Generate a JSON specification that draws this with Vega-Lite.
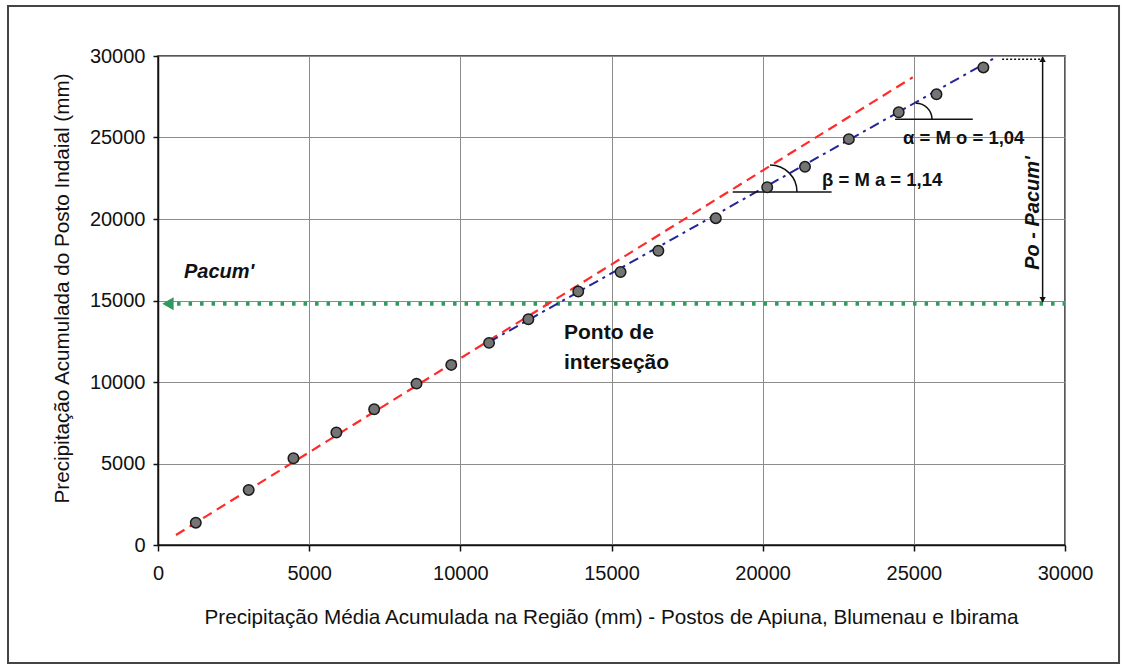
{
  "$schema": "https://vega.github.io/schema/vega-lite/v6.json",
  "width": 907,
  "height": 489,
  "autosize": {"type": "none"},
  "padding": {"left": 158, "top": 56, "right": 57, "bottom": 121},
  "background": "white",
  "config": {
    "font": "Liberation Sans",
    "view": {"stroke": "#222222", "strokeWidth": 1.5},
    "axis": {
      "labelFont": "Liberation Sans",
      "titleFont": "Liberation Sans",
      "labelFontSize": 20,
      "titleFontSize": 20.7,
      "titleFontWeight": "normal",
      "labelColor": "#111111",
      "titleColor": "#111111",
      "gridColor": "#8c8c8c",
      "gridWidth": 1,
      "domainColor": "#111111",
      "domainWidth": 1.5,
      "tickColor": "#111111",
      "tickWidth": 1.5,
      "labelFlush": false,
      "labelOverlap": false
    }
  },
  "datasets": {
    "obs": [
      {"x": 1250, "y": 1370},
      {"x": 3000, "y": 3380},
      {"x": 4480, "y": 5320},
      {"x": 5900, "y": 6900},
      {"x": 7150, "y": 8330},
      {"x": 8550, "y": 9900},
      {"x": 9700, "y": 11050},
      {"x": 10950, "y": 12400},
      {"x": 12250, "y": 13850},
      {"x": 13900, "y": 15550},
      {"x": 15300, "y": 16750},
      {"x": 16550, "y": 18050},
      {"x": 18450, "y": 20050},
      {"x": 20150, "y": 21950},
      {"x": 21400, "y": 23200},
      {"x": 22850, "y": 24900},
      {"x": 24500, "y": 26550},
      {"x": 25750, "y": 27650},
      {"x": 27300, "y": 29300}
    ],
    "segs": [
      {"seg": "Ma", "x": 595, "y": 613, "x2": 24963, "y2": 28693},
      {"seg": "Mo", "x": 10950, "y": 12450, "x2": 27620, "y2": 29820},
      {"seg": "Pacum", "x": 250, "y": 14800, "x2": 30000, "y2": 14800},
      {"seg": "base", "x": 19010, "y": 21660, "x2": 22280, "y2": 21660},
      {"seg": "base", "x": 24380, "y": 26117, "x2": 26950, "y2": 26117},
      {"seg": "diff", "x": 29260, "y": 14900, "x2": 29260, "y2": 29950},
      {"seg": "top", "x": 27920, "y": 29800, "x2": 29180, "y2": 29800}
    ],
    "heads": [
      {"head": "Pacum", "shape": "triangle-left", "x": 330, "y": 14800},
      {"head": "diff", "shape": "triangle-up", "x": 29260, "y": 29800},
      {"head": "diff", "shape": "triangle-down", "x": 29260, "y": 15050}
    ],
    "angles": [
      {"angle": "beta", "x": 20243, "y": 21660},
      {"angle": "alpha", "x": 25072, "y": 26117}
    ],
    "labels": [
      {"kind": "pacum", "x": 860, "y": 16750, "text": "Pacum'"},
      {"kind": "ponto", "x": 13430, "y": 13006, "text": "Ponto de"},
      {"kind": "ponto", "x": 13430, "y": 11166, "text": "interseção"},
      {"kind": "slope", "x": 21963, "y": 22393, "text": "β = M a = 1,14"},
      {"kind": "slope", "x": 24642, "y": 24990, "text": "α = M o = 1,04"},
      {"kind": "diff", "x": 28942, "y": 20368, "text": "Po - Pacum'"}
    ],
    "frame": [
      {"x": -4961, "y": 33067, "x2": 31787, "y2": -7239}
    ]
  },
  "encoding": {
    "x": {
      "field": "x",
      "type": "quantitative",
      "scale": {"domain": [0, 30000], "nice": false, "zero": false},
      "axis": {
        "title": "Precipitação Média Acumulada na Região (mm) - Postos de Apiuna, Blumenau e Ibirama",
        "values": [0, 5000, 10000, 15000, 20000, 25000, 30000],
        "format": "d",
        "tickSize": 6,
        "labelPadding": 12,
        "titleX": 453,
        "titleY": 72,
        "titleAlign": "center",
        "titleBaseline": "middle"
      }
    },
    "y": {
      "field": "y",
      "type": "quantitative",
      "scale": {"domain": [0, 30000], "nice": false, "zero": false},
      "axis": {
        "title": "Precipitação Acumulada do Posto Indaial (mm)",
        "values": [0, 5000, 10000, 15000, 20000, 25000, 30000],
        "format": "d",
        "tickSize": 5,
        "labelPadding": 8,
        "titleX": -96,
        "titleY": 232,
        "titleAngle": 270,
        "titleAlign": "center",
        "titleBaseline": "middle"
      }
    }
  },
  "layer": [
    {
      "data": {"name": "segs"},
      "transform": [{"filter": "datum.seg === 'Pacum'"}],
      "mark": {"type": "rule", "color": "#2f9a5c", "strokeWidth": 4, "strokeDash": [3.5, 8]},
      "encoding": {"x2": {"field": "x2"}, "y2": {"field": "y2"}}
    },
    {
      "data": {"name": "segs"},
      "transform": [{"filter": "datum.seg === 'Ma'"}],
      "mark": {"type": "rule", "color": "#ff2b2b", "strokeWidth": 2.2, "strokeDash": [10, 6]},
      "encoding": {"x2": {"field": "x2"}, "y2": {"field": "y2"}}
    },
    {
      "data": {"name": "segs"},
      "transform": [{"filter": "datum.seg === 'Mo'"}],
      "mark": {"type": "rule", "color": "#24249a", "strokeWidth": 2, "strokeDash": [10, 5, 3, 5]},
      "encoding": {"x2": {"field": "x2"}, "y2": {"field": "y2"}}
    },
    {
      "data": {"name": "segs"},
      "transform": [{"filter": "datum.seg === 'base' || datum.seg === 'diff'"}],
      "mark": {"type": "rule", "color": "#111111", "strokeWidth": 1.5},
      "encoding": {"x2": {"field": "x2"}, "y2": {"field": "y2"}}
    },
    {
      "data": {"name": "segs"},
      "transform": [{"filter": "datum.seg === 'top'"}],
      "mark": {"type": "rule", "color": "#111111", "strokeWidth": 1.5, "strokeDash": [2, 2]},
      "encoding": {"x2": {"field": "x2"}, "y2": {"field": "y2"}}
    },
    {
      "data": {"name": "angles"},
      "transform": [{"filter": "datum.angle === 'beta'"}],
      "mark": {"type": "arc", "theta": 0, "theta2": 1.5708, "radius": 27, "radius2": 27, "filled": false, "fill": null, "stroke": "#111111", "strokeWidth": 1.5}
    },
    {
      "data": {"name": "angles"},
      "transform": [{"filter": "datum.angle === 'alpha'"}],
      "mark": {"type": "arc", "theta": 0, "theta2": 1.5708, "radius": 16, "radius2": 16, "filled": false, "fill": null, "stroke": "#111111", "strokeWidth": 1.5}
    },
    {
      "data": {"name": "heads"},
      "transform": [{"filter": "datum.head === 'Pacum'"}],
      "mark": {"type": "point", "filled": true, "color": "#2f9a5c", "size": 170, "opacity": 1},
      "encoding": {"shape": {"field": "shape", "type": "nominal", "scale": null, "legend": null}}
    },
    {
      "data": {"name": "heads"},
      "transform": [{"filter": "datum.head === 'diff'"}],
      "mark": {"type": "point", "filled": true, "color": "#111111", "size": 40, "opacity": 1},
      "encoding": {"shape": {"field": "shape", "type": "nominal", "scale": null, "legend": null}}
    },
    {
      "data": {"name": "obs"},
      "mark": {"type": "circle", "size": 110, "fill": "#747474", "stroke": "#1a1a1a", "strokeWidth": 1.5, "opacity": 1}
    },
    {
      "data": {"name": "labels"},
      "transform": [{"filter": "datum.kind === 'pacum'"}],
      "mark": {"type": "text", "align": "left", "baseline": "middle", "fontSize": 20, "fontWeight": "bold", "fontStyle": "italic", "color": "#111111"},
      "encoding": {"text": {"field": "text"}}
    },
    {
      "data": {"name": "labels"},
      "transform": [{"filter": "datum.kind === 'ponto'"}],
      "mark": {"type": "text", "align": "left", "baseline": "middle", "fontSize": 21, "fontWeight": "bold", "color": "#111111"},
      "encoding": {"text": {"field": "text"}}
    },
    {
      "data": {"name": "labels"},
      "transform": [{"filter": "datum.kind === 'slope'"}],
      "mark": {"type": "text", "align": "left", "baseline": "middle", "fontSize": 18.5, "fontWeight": "bold", "color": "#111111"},
      "encoding": {"text": {"field": "text"}}
    },
    {
      "data": {"name": "labels"},
      "transform": [{"filter": "datum.kind === 'diff'"}],
      "mark": {"type": "text", "align": "center", "baseline": "middle", "angle": 270, "fontSize": 20, "fontWeight": "bold", "fontStyle": "italic", "color": "#111111"},
      "encoding": {"text": {"field": "text"}}
    },
    {
      "data": {"name": "frame"},
      "mark": {"type": "rect", "fill": "transparent", "stroke": "#444444", "strokeWidth": 2, "clip": false},
      "encoding": {
        "x2": {"field": "x2"},
        "y2": {"field": "y2"}
      }
    }
  ]
}
